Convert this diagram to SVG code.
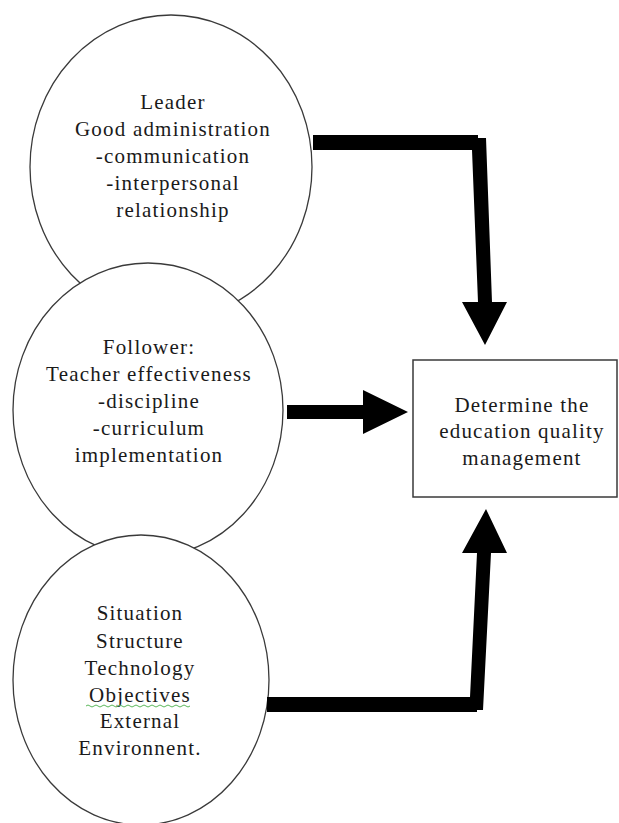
<svg xmlns="http://www.w3.org/2000/svg" width="619" height="823" viewBox="0 0 619 823">
  <style>
    .bubble { fill: #ffffff; stroke: #3a3a3a; stroke-width: 1.3; }
    .box { fill: #ffffff; stroke: #3a3a3a; stroke-width: 1.5; }
    .label { font-family: "Liberation Serif", "Times New Roman", serif; font-size: 21px; fill: #1a1a1a; text-anchor: middle; letter-spacing: 1.2px; }
    .arrow { fill: #000000; stroke: none; }
    .squiggle { fill: none; stroke: #5bb85b; stroke-width: 1; }
  </style>
  <rect width="619" height="823" fill="#ffffff"/>

  <!-- Leader bubble -->
  <g id="leader">
    <ellipse class="bubble" cx="171" cy="167" rx="141" ry="152"/>
    <text class="label" x="173" y="109">Leader</text>
    <text class="label" x="173" y="136">Good administration</text>
    <text class="label" x="173" y="163">-communication</text>
    <text class="label" x="173" y="190">-interpersonal</text>
    <text class="label" x="173" y="217">relationship</text>
  </g>

  <!-- Follower bubble, drawn over the lower part of the leader -->
  <g id="follower">
    <ellipse class="bubble" cx="148" cy="410" rx="135" ry="147"/>
    <text class="label" x="149" y="354">Follower:</text>
    <text class="label" x="149" y="381">Teacher effectiveness</text>
    <text class="label" x="149" y="408">-discipline</text>
    <text class="label" x="149" y="435">-curriculum</text>
    <text class="label" x="149" y="462">implementation</text>
  </g>

  <!-- Situation bubble -->
  <g id="situation">
    <ellipse class="bubble" cx="141" cy="680" rx="128" ry="145"/>
    <text class="label" x="140" y="620">Situation</text>
    <text class="label" x="140" y="648">Structure</text>
    <text class="label" x="140" y="675">Technology</text>
    <text class="label" x="140" y="702">Objectives</text>
    <path class="squiggle" d="M86 706 q2 -2 4 0 t4 0 t4 0 t4 0 t4 0 t4 0 t4 0 t4 0 t4 0 t4 0 t4 0 t4 0 t4 0 t4 0 t4 0 t4 0 t4 0 t4 0 t4 0 t4 0 t4 0 t4 0 t4 0 t4 0 t4 0 t4 0"/>
    <text class="label" x="140" y="728">External</text>
    <text class="label" x="140" y="755">Environnent.</text>
  </g>

  <!-- Outcome box -->
  <g id="outcome">
    <rect class="box" x="413" y="360" width="204" height="137"/>
    <text class="label" x="522" y="412">Determine the</text>
    <text class="label" x="522" y="438">education quality</text>
    <text class="label" x="522" y="465">management</text>
  </g>

  <!-- Block arrows into the outcome box -->
  <g id="connectors">
    <!-- from leader: right, then down -->
    <path class="arrow" d="M313 135 L478 135 L478 138 L486 138 L492 302 L507 302 L485 345 L462 302 L478 302 L472 150 L313 150 Z"/>
    <!-- from follower: straight right -->
    <path class="arrow" d="M287 405 L363 405 L363 390 L408 412 L363 434 L363 419 L287 419 Z"/>
    <!-- from situation: right, then up -->
    <path class="arrow" d="M267 697 L470 697 L477 553 L462 553 L486 509 L507 553 L491 553 L483 710 L477 710 L477 712 L267 712 Z"/>
  </g>
</svg>
